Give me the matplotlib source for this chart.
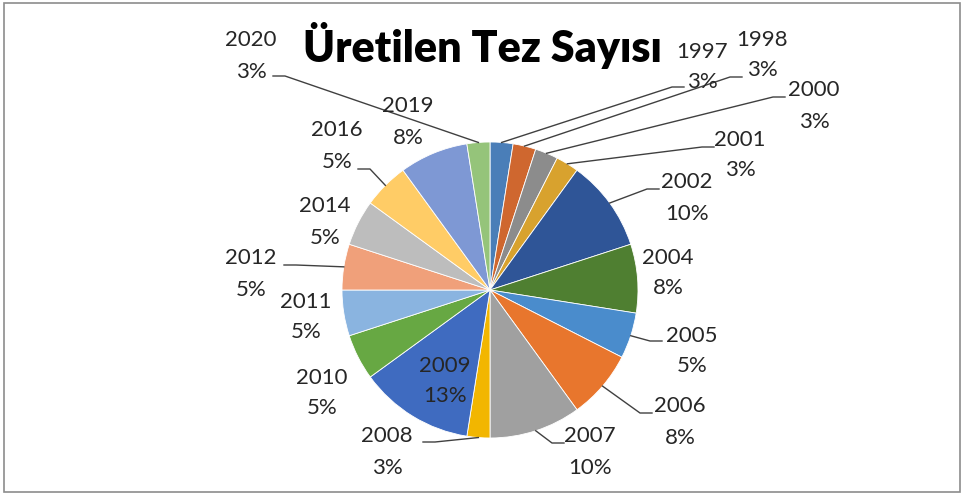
import numpy as np
import matplotlib
matplotlib.use("Agg")
import matplotlib.pyplot as plt
from matplotlib.patches import Rectangle

plt.rcParams["font.family"] = ["Lato", "DejaVu Sans"]

# data
years = ["1997", "1998", "2000", "2001", "2002", "2004", "2005", "2006", "2007",
         "2008", "2009", "2010", "2011", "2012", "2014", "2016", "2019", "2020"]
counts = [1, 1, 1, 1, 4, 3, 2, 3, 4, 1, 5, 2, 2, 2, 2, 2, 3, 1]
colors = ["#4A7EB8", "#CF672F", "#8C8C8C", "#D8A22E", "#2F5597", "#4F7F31",
          "#4A8CCC", "#E8762D", "#A0A0A0", "#F2B600", "#3F6BC0", "#67A843",
          "#8AB4E0", "#F0A07A", "#BDBDBD", "#FFCC66", "#7E98D4", "#95C47A"]
title = "Üretilen Tez Sayısı"

# layout (image pixel coords, y from top)
W, H = 963, 495
cx, cy, R = 490, 290, 148
label_pos = [(702, 67), (762, 55), (814, 106), (740, 155), (687, 198), (668, 273),
             (692, 351), (680, 422), (590, 452), (387, 452), (445, 381), (322, 393),
             (306, 317), (251, 274), (325, 222), (337, 146), (408, 122), (251, 56)]
# leader elbows: (x, y, direction of short horizontal), None = no leader
leaders = [(672, 87, 1), (730, 77, 1), (773, 97, 1), (702, 147, 1), (647, 189, 1), None,
           (650, 341, 1), (640, 413, 1), (552, 443, 1), (435, 442, -1), None, None,
           None, (296, 265, -1), None, (370, 169, -1), None, (285, 76, -1)]

total = sum(counts)
pcts = [int(np.floor(c / total * 100 + 0.5)) for c in counts]

fig = plt.figure(figsize=(W / 100, H / 100), dpi=100)
ax = fig.add_axes([0, 0, 1, 1])

wedges, _ = ax.pie(counts, colors=colors, startangle=90, counterclock=False,
                   center=(cx, H - cy), radius=R,
                   wedgeprops=dict(edgecolor="white", linewidth=0.6))
ax.set_xlim(0, W)
ax.set_ylim(0, H)
ax.set_aspect("equal")
ax.axis("off")

for w, yr, p, (lx, ly), ld in zip(wedges, years, pcts, label_pos, leaders):
    ax.text(lx, H - (ly - 15.5), yr, ha="center", va="center", fontsize=16, color="#262626")
    ax.text(lx, H - (ly + 15.5), f"{p}%", ha="center", va="center", fontsize=16, color="#262626")
    if ld is not None:
        mid = np.deg2rad((w.theta1 + w.theta2) / 2)
        sx = w.center[0] + w.r * np.cos(mid)
        sy = w.center[1] + w.r * np.sin(mid)
        ex, ey, d = ld
        ax.plot([sx, ex, ex + 12 * d], [sy, H - ey, H - ey], color="#404040", lw=1)

ax.text(482, H - 62, title, ha="center", va="baseline", fontsize=31,
        fontweight="heavy", color="black")

ax.add_patch(Rectangle((4, 3), 956, 489, fill=False, edgecolor="#8c8c8c", lw=1.2))

fig.savefig("out.png", dpi=100)
